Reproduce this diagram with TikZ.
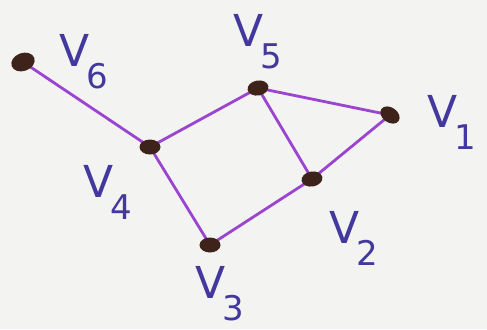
\documentclass[tikz,border=0pt]{standalone}
\usepackage{fontspec}
\setmainfont{DejaVu Sans}
\usetikzlibrary{shapes.geometric}
\definecolor{paper}{HTML}{F3F3F1}
\definecolor{edgec}{HTML}{9A44D0}
\definecolor{dotc}{HTML}{3D2319}
\definecolor{inkc}{HTML}{43389E}
\tikzset{
  vert/.style={ellipse, fill=dotc, minimum width=10.5pt, minimum height=7.5pt, inner sep=0pt},
  edge/.style={edgec, line width=1.4pt, line cap=round},
  lab/.style={inkc, font=\fontsize{22}{22}\selectfont, inner sep=0pt}
}
\newcommand{\vlab}[1]{V\kern-0.08em\raisebox{-0.5em}{\fontsize{17}{17}\selectfont #1}}
\begin{document}
\begin{tikzpicture}[x=0.5pt,y=-0.5pt]
\fill[paper] (0,0) rectangle (487,329);
\useasboundingbox (0,0) rectangle (487,329);
\coordinate (v6) at (23,62);
\coordinate (v5) at (258,88);
\coordinate (v1) at (390,115);
\coordinate (v4) at (150,147);
\coordinate (v2) at (312,179);
\coordinate (v3) at (210,245);
\draw[edge] (v6) -- (v4);
\draw[edge] (v4) -- (v5);
\draw[edge] (v5) -- (v1);
\draw[edge] (v5) -- (v2);
\draw[edge] (v1) -- (v2);
\draw[edge] (v4) -- (v3);
\draw[edge] (v3) -- (v2);
\node[vert, rotate=20, minimum width=12pt, minimum height=9pt] (d6) at (v6) {};
\node[vert, rotate=10] (d5) at (v5) {};
\node[vert, rotate=-35] (d1) at (v1) {};
\node[vert] (d4) at (v4) {};
\node[vert, rotate=10] (d2) at (v2) {};
\node[vert] (d3) at (v3) {};
\node[lab] (l6) at (84,62) {\vlab{6}};
\node[lab] (l5) at (258,42) {\vlab{5}};
\node[lab] (l1) at (452,122) {\vlab{1}};
\node[lab] (l4) at (108,192) {\vlab{4}};
\node[lab] (l2) at (354,238) {\vlab{2}};
\node[lab] (l3) at (220,294) {\vlab{3}};
\end{tikzpicture}
\end{document}
